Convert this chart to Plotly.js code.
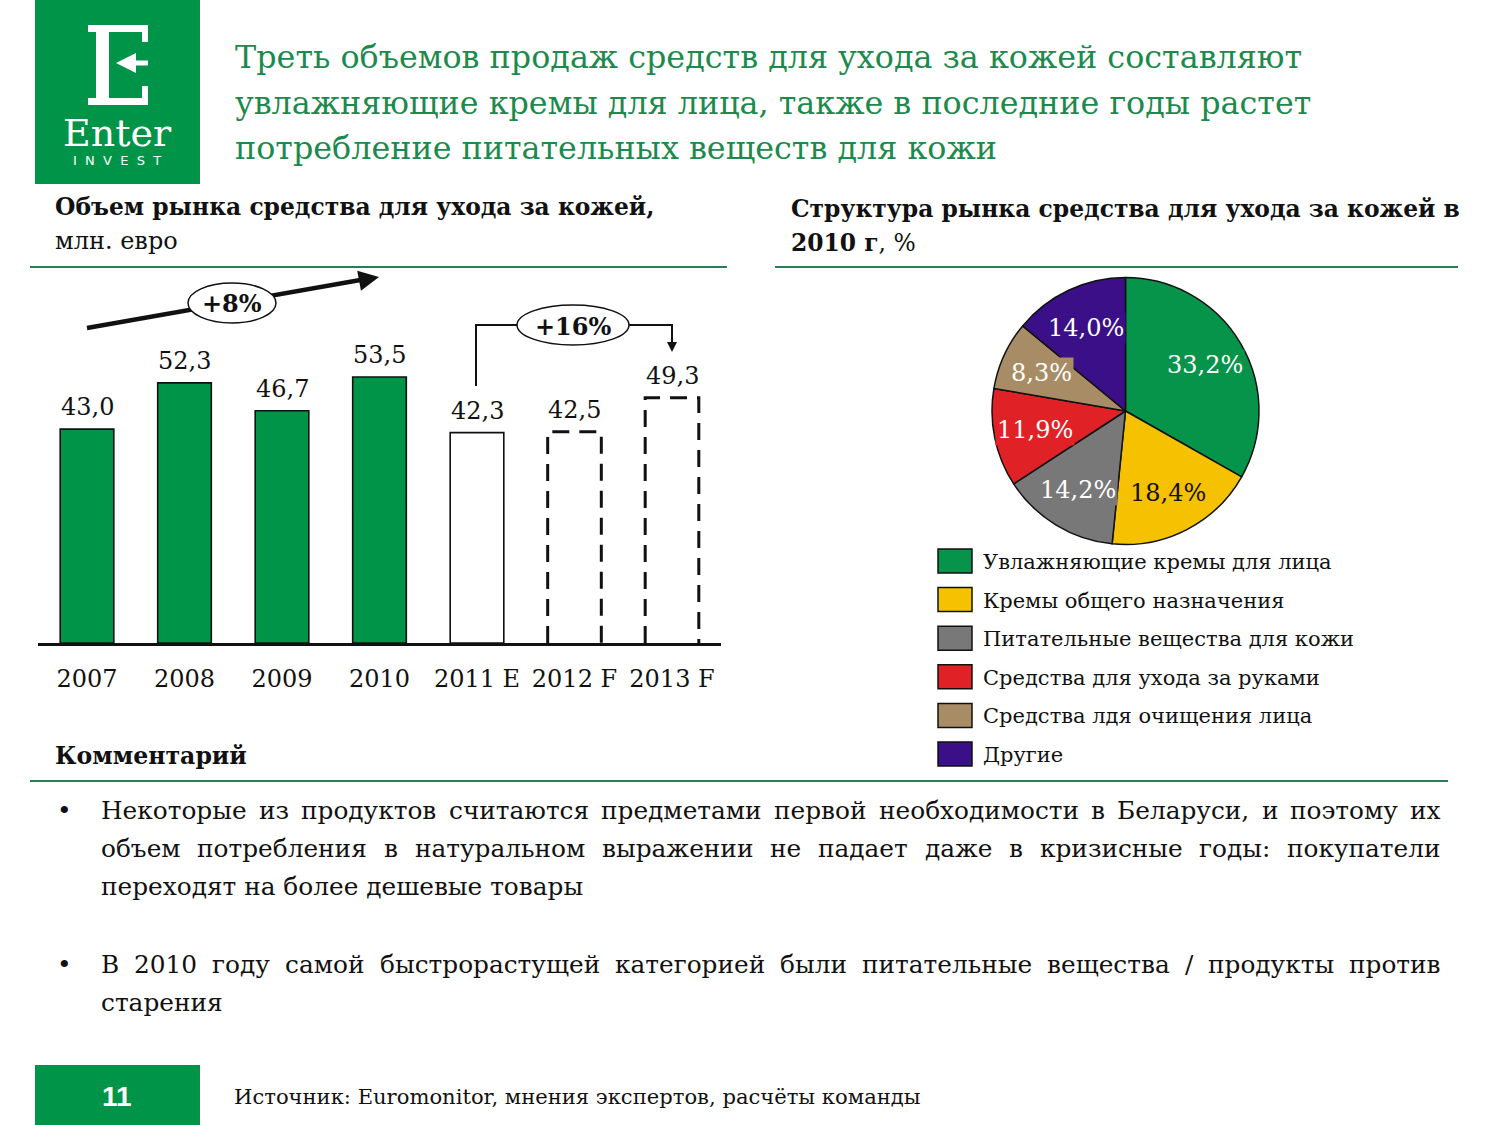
<!DOCTYPE html>
<html>
<head>
<meta charset="utf-8">
<script src="https://cdn.plot.ly/plotly-3.0.1.min.js"></script>
<style>
  html, body { margin: 0; padding: 0; background: #ffffff; }
  #chart { width: 1500px; height: 1125px; }
</style>
</head>
<body>
<div id="chart"></div>
<script>
// ---------------- DATA ----------------
const years = ['2007', '2008', '2009', '2010', '2011 E', '2012 F', '2013 F'];
const marketValues = [43.0, 52.3, 46.7, 53.5, 42.3, 42.5, 49.3];
const barKinds = ['actual', 'actual', 'actual', 'actual', 'estimate', 'forecast', 'forecast'];

const pieLabels = [
  'Увлажняющие кремы для лица',
  'Кремы общего назначения',
  'Питательные вещества для кожи',
  'Средства для ухода за руками',
  'Средства лдя очищения лица',
  'Другие'
];
const pieValues = [33.2, 18.4, 14.2, 11.9, 8.3, 14.0];
const pieColors = ['#05944a', '#f6c200', '#787878', '#e02126', '#a88c66', '#3b0f87'];
const pieTextColors = ['#ffffff', '#111111', '#ffffff', '#ffffff', '#ffffff', '#ffffff'];

const titleLines = [
  'Треть объемов продаж средств для ухода за кожей составляют',
  'увлажняющие кремы для лица, также в последние годы растет',
  'потребление питательных веществ для кожи'
];
const growthLabels = ['+8%', '+16%'];
const bullet1Lines = [
  'Некоторые из продуктов считаются предметами первой необходимости в Беларуси, и поэтому их',
  'объем потребления в натуральном выражении не падает даже в кризисные годы: покупатели',
  'переходят на более дешевые товары'
];
const bullet2Lines = [
  'В 2010 году самой быстрорастущей категорией были питательные вещества / продукты против',
  'старения'
];
const sourceText = 'Источник: Euromonitor, мнения экспертов, расчёты команды';
const pageNumber = '11';

// ---------------- HELPERS ----------------
const W = 1500, H = 1125;
const px = x => x / W;
const py = y => 1 - y / H;
const SERIF = 'DejaVu Serif';
const GREEN = '#009448';
const TITLE_GREEN = '#1d8a4d';
const RULE_GREEN = '#2b7d58';
const fmt = v => v.toFixed(1).replace('.', ',');

const shapes = [];
const annotations = [];

function txt(text, x, y, size, opts = {}) {
  annotations.push(Object.assign({
    text: text, x: px(x), y: py(y), xref: 'paper', yref: 'paper',
    xanchor: 'left', yanchor: 'middle', showarrow: false, borderpad: 0,
    font: { family: SERIF, size: size, color: '#111111' }
  }, opts));
}
function rectPx(x0, y0, x1, y1, fill, line) {
  shapes.push({ type: 'rect', xref: 'paper', yref: 'paper',
    x0: px(x0), x1: px(x1), y0: py(y1), y1: py(y0),
    fillcolor: fill, line: line || { width: 0 } });
}
function linePx(x0, y0, x1, y1, color, width) {
  shapes.push({ type: 'line', xref: 'paper', yref: 'paper',
    x0: px(x0), x1: px(x1), y0: py(y0), y1: py(y1),
    line: { color: color, width: width } });
}

// ---------------- LOGO ----------------
rectPx(35, 0, 200, 184, GREEN);
// stylised "E"
rectPx(88, 25, 148, 32, '#ffffff');
rectPx(88, 98, 148, 105, '#ffffff');
rectPx(96, 25, 109, 105, '#ffffff');
rectPx(142, 25, 148, 42, '#ffffff');
rectPx(142, 86, 148, 105, '#ffffff');
linePx(122, 63, 148, 63, '#ffffff', 5);
annotations.push({ x: px(116), y: py(63), xref: 'paper', yref: 'paper', text: '',
  showarrow: true, ax: 14, ay: 0, arrowhead: 2, arrowsize: 1, arrowwidth: 4, arrowcolor: '#ffffff' });
txt('Enter', 117, 133, 38, { xanchor: 'center', font: { family: SERIF, size: 38, color: '#ffffff' } });
txt('I  N  V  E  S  T', 117, 160, 13, { xanchor: 'center', font: { family: 'DejaVu Sans', size: 13, color: '#ffffff' } });

// ---------------- TITLE ----------------
titleLines.forEach((t, i) => {
  txt(t, 234, 57 + i * 45, 31.8, { font: { family: SERIF, size: 31.8, color: TITLE_GREEN } });
});

// ---------------- SECTION HEADERS ----------------
txt('<b>Объем рынка средства для ухода за кожей,</b>', 54, 207, 23.4);
txt('млн. евро', 54, 241, 24);
linePx(30, 267, 727, 267, RULE_GREEN, 2);

txt('<b>Структура рынка средства для ухода за кожей в</b>', 790, 209, 23.4);
txt('<b>2010 г</b>, %', 790, 243, 23.4);
linePx(775, 267, 1458, 267, RULE_GREEN, 2);

// ---------------- BAR CHART ----------------
const barIdx = years.map((_, i) => i);
const barWidth = 0.55;
const barFill = barKinds.map(k => k === 'actual' ? GREEN : '#ffffff');
const barLine = barKinds.map(k => k === 'forecast' ? 'rgba(0,0,0,0)' : '#111111');

const barTrace = {
  type: 'bar', x: barIdx, y: marketValues, width: barWidth,
  marker: { color: barFill, line: { color: barLine, width: 1.6 } },
  xaxis: 'x', yaxis: 'y', hoverinfo: 'skip', showlegend: false
};

// dashed outlines for forecast bars, built from data
barIdx.forEach(i => {
  if (barKinds[i] !== 'forecast') return;
  const a = i - barWidth / 2, b = i + barWidth / 2, v = marketValues[i];
  shapes.push({ type: 'path', xref: 'x', yref: 'y',
    path: `M ${a},0 L ${a},${v} L ${b},${v} L ${b},0`,
    line: { color: '#111111', width: 3, dash: '17px,10px' } });
});

// value labels
barIdx.forEach(i => {
  annotations.push({ x: i, y: marketValues[i], xref: 'x', yref: 'y',
    text: fmt(marketValues[i]), showarrow: false, yanchor: 'bottom', yshift: 7, borderpad: 0,
    font: { family: SERIF, size: 24, color: '#111111' } });
});

// +8% growth arrow
linePx(87, 328, 366, 279, '#111111', 4.5);
annotations.push({ x: px(379), y: py(277), xref: 'paper', yref: 'paper', text: '',
  showarrow: true, ax: -16, ay: 3, arrowhead: 2, arrowsize: 0.9, arrowwidth: 4.5, arrowcolor: '#111111' });
shapes.push({ type: 'circle', xref: 'paper', yref: 'paper',
  x0: px(188), x1: px(276), y0: py(323), y1: py(283),
  fillcolor: '#ffffff', line: { color: '#111111', width: 1.5 } });
txt('<b>' + growthLabels[0] + '</b>', 232, 304, 24, { xanchor: 'center' });

// +16% bracket
shapes.push({ type: 'path', xref: 'paper', yref: 'paper',
  path: `M ${px(476)},${py(386)} L ${px(476)},${py(325)} L ${px(672)},${py(325)} L ${px(672)},${py(340)}`,
  line: { color: '#111111', width: 2 } });
annotations.push({ x: px(672), y: py(352), xref: 'paper', yref: 'paper', text: '',
  showarrow: true, ax: 0, ay: -14, arrowhead: 2, arrowsize: 1, arrowwidth: 2, arrowcolor: '#111111' });
shapes.push({ type: 'circle', xref: 'paper', yref: 'paper',
  x0: px(517), x1: px(629), y0: py(345), y1: py(305),
  fillcolor: '#ffffff', line: { color: '#111111', width: 1.5 } });
txt('<b>' + growthLabels[1] + '</b>', 573, 326, 24, { xanchor: 'center' });

// ---------------- PIE ----------------
const pieCx = 1125.5, pieCy = 411, pieR = 133.5;
const pieTrace = {
  type: 'pie', values: pieValues, labels: pieLabels, sort: false, direction: 'clockwise',
  rotation: 0, textinfo: 'none', hoverinfo: 'skip', showlegend: false,
  marker: { colors: pieColors, line: { color: '#111111', width: 1.5 } },
  domain: { x: [px(pieCx - pieR), px(pieCx + pieR)], y: [py(pieCy + pieR), py(pieCy - pieR)] }
};
const pieTotal = pieValues.reduce((a, b) => a + b, 0);
let cum = 0;
pieValues.forEach((v, i) => {
  const mid = (cum + v / 2) / pieTotal * 2 * Math.PI;
  cum += v;
  const r = 0.69 * pieR;
  const lx = pieCx + r * Math.sin(mid), ly = pieCy - r * Math.cos(mid);
  annotations.push({ x: px(lx), y: py(ly), xref: 'paper', yref: 'paper',
    text: fmt(v) + '%', showarrow: false, xanchor: 'center', yanchor: 'middle',
    bgcolor: pieColors[i], borderpad: 1,
    font: { family: SERIF, size: 24, color: pieTextColors[i] } });
});

// custom legend
pieLabels.forEach((lab, i) => {
  const cy = 561 + i * 38.6;
  rectPx(938, cy - 12, 972, cy + 12, pieColors[i], { color: '#111111', width: 1.5 });
  txt(lab, 982, cy + 1, 21);
});

// ---------------- COMMENTARY ----------------
txt('<b>Комментарий</b>', 54, 756, 23.6);
linePx(30, 781, 1448, 781, RULE_GREEN, 2);

const measure = (() => {
  const c = document.createElement('canvas').getContext('2d');
  return (s, size) => { c.font = `${size}px "${SERIF}"`; return c.measureText(s).width; };
})();
function justifiedLine(line, x0, x1, y, size, justify) {
  if (!justify) { txt(line, x0, y, size); return; }
  const words = line.split(' ');
  const widths = words.map(w => measure(w, size));
  const total = widths.reduce((a, b) => a + b, 0);
  const gap = (x1 - x0 - total) / (words.length - 1);
  let x = x0;
  words.forEach((w, k) => { txt(w, x, y, size); x += widths[k] + gap; });
}
const CSIZE = 24.8;
txt('•', 56, 810, CSIZE);
bullet1Lines.forEach((l, i) => justifiedLine(l, 100, 1440, 810 + i * 38.5, CSIZE, i < bullet1Lines.length - 1));
txt('•', 56, 964, CSIZE);
bullet2Lines.forEach((l, i) => justifiedLine(l, 100, 1440, 964 + i * 38.5, CSIZE, i < bullet2Lines.length - 1));

// ---------------- FOOTER ----------------
rectPx(35, 1065, 200, 1125, GREEN);
txt('<b>' + pageNumber + '</b>', 117, 1096, 28, { xanchor: 'center', font: { family: 'Liberation Sans', size: 28, color: '#ffffff' } });
txt(sourceText, 233, 1096, 21.1);

// ---------------- LAYOUT ----------------
const layout = {
  width: W, height: H,
  margin: { l: 0, r: 0, t: 0, b: 0, pad: 0 },
  paper_bgcolor: '#ffffff', plot_bgcolor: 'rgba(0,0,0,0)',
  showlegend: false,
  font: { family: SERIF, color: '#111111' },
  xaxis: {
    domain: [px(38.25), px(720.75)], range: [-0.5, 6.5],
    tickvals: barIdx, ticktext: years, ticks: '', ticklabelstandoff: 12,
    tickfont: { family: SERIF, size: 24, color: '#111111' },
    showline: true, linecolor: '#111111', linewidth: 3,
    showgrid: false, zeroline: false, fixedrange: true
  },
  yaxis: {
    domain: [py(643), py(270)], range: [0, 75],
    visible: false, showgrid: false, zeroline: false, fixedrange: true
  },
  shapes: shapes,
  annotations: annotations
};

Plotly.newPlot('chart', [barTrace, pieTrace], layout, { staticPlot: true, displayModeBar: false });
</script>
</body>
</html>
